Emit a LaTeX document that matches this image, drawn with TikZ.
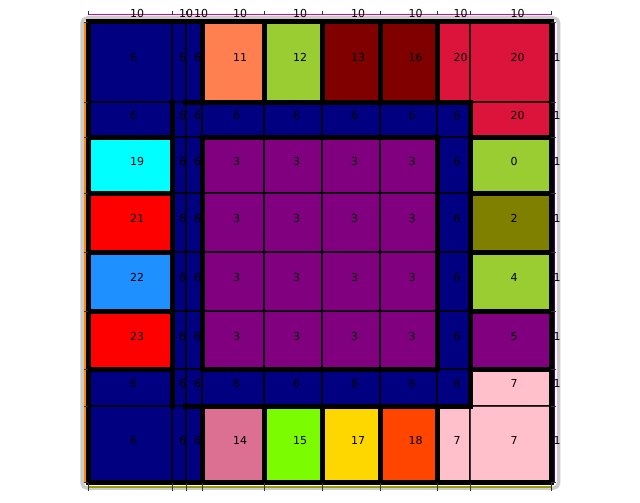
\documentclass[tikz,border=0pt]{standalone}
\usepackage{fontspec}
\setmainfont{DejaVu Sans}
\definecolor{navyc}{HTML}{000080}
\definecolor{purplec}{HTML}{800080}
\definecolor{coralc}{HTML}{FF7F50}
\definecolor{ygreenc}{HTML}{9ACD32}
\definecolor{maroonc}{HTML}{800000}
\definecolor{crimsonc}{HTML}{DC143C}
\definecolor{cyanc}{HTML}{00FFFF}
\definecolor{redc}{HTML}{FF0000}
\definecolor{olivec}{HTML}{808000}
\definecolor{dodgerc}{HTML}{1E90FF}
\definecolor{pinkc}{HTML}{FFC0CB}
\definecolor{pvredc}{HTML}{DB7093}
\definecolor{lawnc}{HTML}{7CFC00}
\definecolor{goldc}{HTML}{FFD700}
\definecolor{oredc}{HTML}{FF4500}
\definecolor{framec}{HTML}{CCCCCC}
\definecolor{orangec}{HTML}{FF8C00}
\definecolor{indigoc}{HTML}{4B0082}
\definecolor{olivelc}{HTML}{9A9A00}
\pgfdeclarelayer{back}
\pgfdeclarelayer{mid}
\pgfsetlayers{back,mid,main}
\tikzset{
  cellline/.style={draw=black, draw opacity=0.75, line width=1.1pt},
  wall/.style={draw=black, line width=5pt, line cap=rect, line join=miter},
  lbl/.style={anchor=base west, inner sep=0pt, font=\fontsize{11}{13}\selectfont},
  tickl/.style={draw=black!80, line width=0.8pt},
}
\def\setcol#1#2#3{\expandafter\def\csname xa#1\endcsname{#2}\expandafter\def\csname xb#1\endcsname{#3}}
\def\setrow#1#2#3{\expandafter\def\csname ya#1\endcsname{#2}\expandafter\def\csname yb#1\endcsname{#3}}
\setcol{1}{88}{172}\setcol{2}{172}{186}\setcol{3}{186}{202}\setcol{4}{202}{264}
\setcol{5}{264}{322}\setcol{6}{322}{380}\setcol{7}{380}{437}\setcol{8}{437}{470}\setcol{9}{470}{551}
\setrow{1}{22}{102}\setrow{2}{102}{137}\setrow{3}{137}{193}\setrow{4}{193}{252}
\setrow{5}{252}{311}\setrow{6}{311}{369}\setrow{7}{369}{406}\setrow{8}{406}{482}
\newcommand\cell[4]{%
  \edef\cxa{\csname xa#2\endcsname}\edef\cxb{\csname xb#2\endcsname}%
  \edef\cya{\csname ya#1\endcsname}\edef\cyb{\csname yb#1\endcsname}%
  \begin{pgfonlayer}{back}
    \fill[#3] (\cxa,\cya) rectangle (\cxb,\cyb);
    \draw[cellline] (\cxa,\cya) rectangle (\cxb,\cyb);
  \end{pgfonlayer}
  \node[lbl] (r#1c#2) at ({(\cxa+\cxb)/2},{(\cya+\cyb)/2}) {#4};
}
\begin{document}
\begin{tikzpicture}[x=1pt,y=-1pt]
\useasboundingbox (0,0) rectangle (640,503);
% frame and axis lines
\begin{pgfonlayer}{back}
  \draw[framec, line width=3.5pt, rounded corners=5pt] (82,18) rectangle (558.5,488);
  \draw[orangec, line width=1.6pt] (85,22) -- (85,482);
  \draw[magenta, line width=1.8pt] (88,14.5) -- (551,14.5);
  \draw[indigoc, line width=1.6pt] (554,22) -- (554,482);
  \draw[olivelc, line width=1.6pt] (88,487) -- (551,487);
\end{pgfonlayer}
% ticks
\foreach \x in {88,172,186,202,264,322,380,437,470,551} {
  \draw[tickl] (\x,11.5) -- (\x,15.5);
  \draw[tickl] (\x,483) -- (\x,491);
}
\foreach \y in {22,102,137,193,252,311,369,406,482} {
  \draw[tickl] (83.5,\y) -- (88,\y);
  \draw[tickl] (551,\y) -- (556,\y);
}
% row 1
\cell{1}{1}{navyc}{6}\cell{1}{2}{navyc}{6}\cell{1}{3}{navyc}{6}
\cell{1}{4}{coralc}{11}\cell{1}{5}{ygreenc}{12}\cell{1}{6}{maroonc}{13}
\cell{1}{7}{maroonc}{16}\cell{1}{8}{crimsonc}{20}\cell{1}{9}{crimsonc}{20}
% row 2
\foreach \c in {1,...,8} {\cell{2}{\c}{navyc}{6}}
\cell{2}{9}{crimsonc}{20}
% rows 3-6
\foreach \r in {3,4,5,6} {
  \cell{\r}{2}{navyc}{6}\cell{\r}{3}{navyc}{6}
  \foreach \c in {4,5,6,7} {\cell{\r}{\c}{purplec}{3}}
  \cell{\r}{8}{navyc}{6}
}
\cell{3}{1}{cyanc}{19}\cell{3}{9}{ygreenc}{0}
\cell{4}{1}{redc}{21}\cell{4}{9}{olivec}{2}
\cell{5}{1}{dodgerc}{22}\cell{5}{9}{ygreenc}{4}
\cell{6}{1}{redc}{23}\cell{6}{9}{purplec}{5}
% row 7
\foreach \c in {1,...,8} {\cell{7}{\c}{navyc}{6}}
\cell{7}{9}{pinkc}{7}
% row 8
\cell{8}{1}{navyc}{6}\cell{8}{2}{navyc}{6}\cell{8}{3}{navyc}{6}
\cell{8}{4}{pvredc}{14}\cell{8}{5}{lawnc}{15}\cell{8}{6}{goldc}{17}
\cell{8}{7}{oredc}{18}\cell{8}{8}{pinkc}{7}\cell{8}{9}{pinkc}{7}
% thick walls
\begin{pgfonlayer}{mid}
  \draw[wall] (88,22) rectangle (551,482);
  \foreach \x in {202,264,322,380,437} {
    \draw[wall] (\x,22) -- (\x,102);
    \draw[wall] (\x,406) -- (\x,482);
  }
  \draw[wall, line cap=butt] (183,102) -- (470,102) -- (470,406) -- (183,406);
  \draw[wall] (172,102) -- (172,406);
  \draw[wall] (202,137) rectangle (437,369);
  \foreach \y in {137,193,252,311,369} {
    \draw[wall] (88,\y) -- (172,\y);
    \draw[wall] (470,\y) -- (551,\y);
  }
\end{pgfonlayer}
% top labels
\foreach \x/\n in {130/t1,179/t2,194/t3,233/t4,293/t5,351/t6,408.5/t7,453.5/t8,510.5/t9} {
  \node[lbl] (\n) at (\x,18) {10};
}
% right labels
\foreach \y/\n in {62/s1,119.5/s2,165/s3,222.5/s4,281.5/s5,340/s6,387.5/s7,444/s8} {
  \node[lbl] (\n) at (553.5,\y) {1};
}
\end{tikzpicture}
\end{document}
